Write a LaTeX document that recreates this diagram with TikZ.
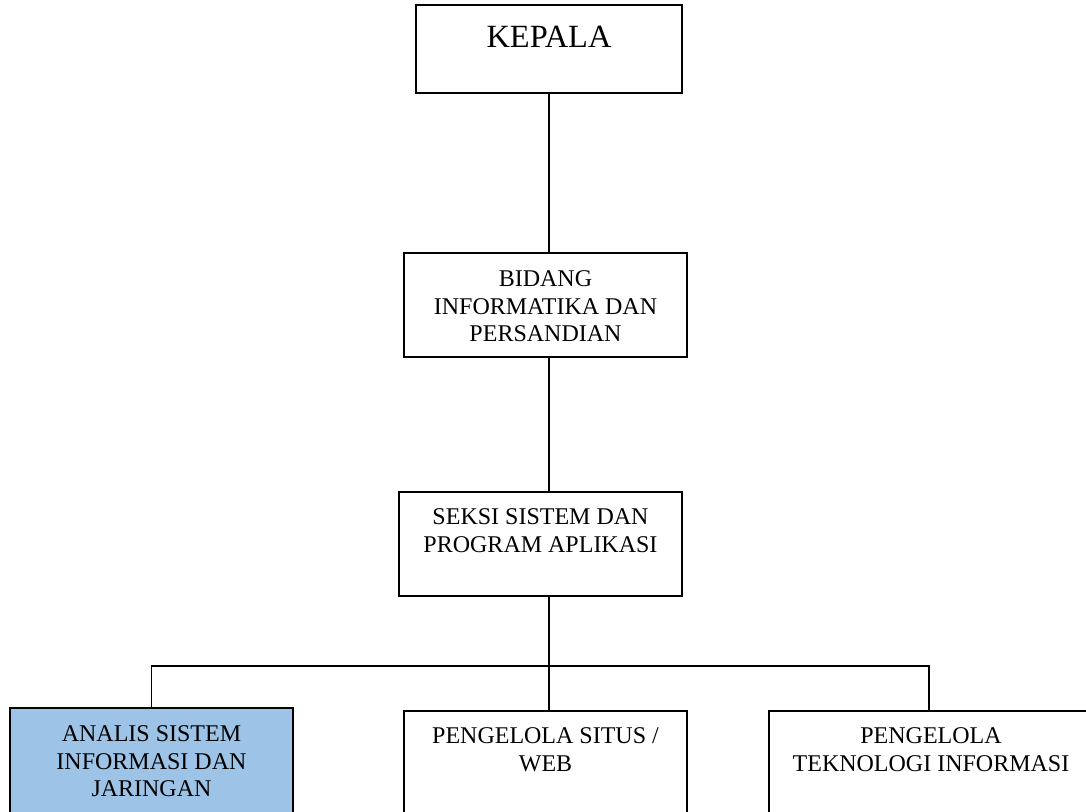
\documentclass[tikz,border=0pt]{standalone}
\usepackage{fontspec}
\setmainfont{Liberation Serif}
\usetikzlibrary{positioning}

\definecolor{lightblue}{RGB}{157,195,230}

\begin{document}
\begin{tikzpicture}[x=0.5pt,y=-0.5pt,line width=0.65pt]

      \clip (0,0) rectangle (1086,811);

      \begin{scope}[every node/.style={rectangle,draw,line width=0.65pt,inner sep=0pt}]
        \node (kepala) [minimum width=133pt,minimum height=44pt]   at (549,49)    {};
        \node (bidang) [minimum width=141.5pt,minimum height=52pt] at (545.5,305) {};
        \node (seksi)  [minimum width=141.5pt,minimum height=52pt] at (540.5,544) {};
        \node (analis) [minimum width=141.5pt,minimum height=75pt,fill=lightblue] at (151.5,783) {};
        \node (situs)  [minimum width=141.5pt,minimum height=75pt] at (545.5,786) {};
        \node (tek)    [minimum width=160pt,minimum height=75pt]   at (929,786)   {};
      \end{scope}

      \begin{scope}[every node/.style={inner sep=0pt,align=center,font=\fontsize{12}{13.8}\selectfont}]
        \node (kepala-t) [below=10.5pt of kepala.north,font=\fontsize{16.2}{18}\selectfont] {KEPALA};
        \node (bidang-t) [below=8.8pt of bidang.north]  {BIDANG\\INFORMATIKA DAN\\PERSANDIAN};
        \node (seksi-t)  [below=8.3pt of seksi.north] {SEKSI SISTEM DAN\\PROGRAM APLIKASI};
        \node (analis-t) [below=8.8pt of analis.north]  {ANALIS SISTEM\\INFORMASI DAN\\JARINGAN};
        \node (situs-t)  [below=8.3pt of situs.north] {PENGELOLA SITUS /\\WEB};
        \node (tek-t)    [below=8.3pt of tek.north,xshift=1pt] {PENGELOLA\\TEKNOLOGI INFORMASI};
      \end{scope}

      \coordinate (bus) at (548,666);

      \draw (kepala.south) -- (kepala.south |- bidang.north);
      \draw (bidang.south -| kepala.south) -- (seksi.north -| kepala.south);
      \draw (seksi.south -| kepala.south) -- (situs.north -| kepala.south);
      \draw (analis.north) |- (bus) -| (tek.north);

    \end{tikzpicture}
\end{document}
